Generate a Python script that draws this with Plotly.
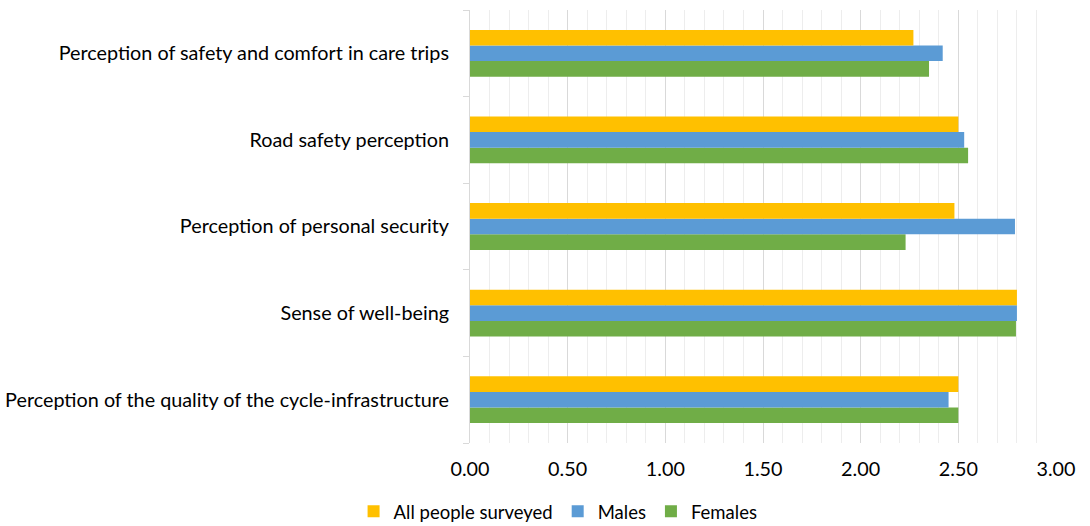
import plotly.graph_objects as go

categories = [
    "Perception of the quality of the cycle-infrastructure",
    "Sense of well-being",
    "Perception of personal security",
    "Road safety perception",
    "Perception of safety and comfort in care trips",
]
all_people = [2.50, 2.80, 2.48, 2.50, 2.27]
males = [2.45, 2.80, 2.79, 2.53, 2.42]
females = [2.50, 2.795, 2.23, 2.55, 2.35]
tick_vals = [0, 0.5, 1.0, 1.5, 2.0, 2.5, 3.0]
tick_text = ["0.00", "0.50", "1.00", "1.50", "2.00", "2.50", "3.00"]

FONT = "Lato"
FS = 19.8

fig = go.Figure()
fig.add_trace(go.Bar(y=categories, x=females, name="Females", orientation="h",
                     marker=dict(color="#70AD47", line=dict(width=0))))
fig.add_trace(go.Bar(y=categories, x=males, name="Males", orientation="h",
                     marker=dict(color="#5B9BD5", line=dict(width=0))))
fig.add_trace(go.Bar(y=categories, x=all_people, name="All people surveyed", orientation="h",
                     marker=dict(color="#FFC000", line=dict(width=0))))

fig.update_layout(
    width=1090, height=526,
    margin=dict(l=470, r=34, t=10, b=83),
    paper_bgcolor="white", plot_bgcolor="white",
    barmode="group", bargap=0.46, bargroupgap=0,
    font=dict(family=FONT, size=FS, color="#000000"),
    legend=dict(orientation="h", traceorder="reversed",
                xref="container", yref="container",
                x=0.512, xanchor="center", y=0.027, yanchor="middle",
                font=dict(family=FONT, size=18.5, color="#000000"),
                itemwidth=30),
    xaxis=dict(range=[0, 3.0], tickvals=tick_vals, ticktext=tick_text,
               showgrid=True, gridcolor="#D9D9D9", gridwidth=1,
               minor=dict(dtick=0.1, tick0=0, showgrid=True, gridcolor="#EDEDED", gridwidth=1),
               zeroline=False, showline=False, ticks="", automargin=False,
               ticklabelstandoff=12,
               tickfont=dict(family=FONT, size=FS, color="#000000")),
    yaxis=dict(showgrid=False, zeroline=False, showline=True, linecolor="#D9D9D9",
               linewidth=1, ticks="outside", tickson="boundaries", ticklen=6,
               tickcolor="#D9D9D9", ticklabelstandoff=16, automargin=False,
               tickfont=dict(family=FONT, size=FS, color="#000000")),
)

fig.write_html("out.html")
